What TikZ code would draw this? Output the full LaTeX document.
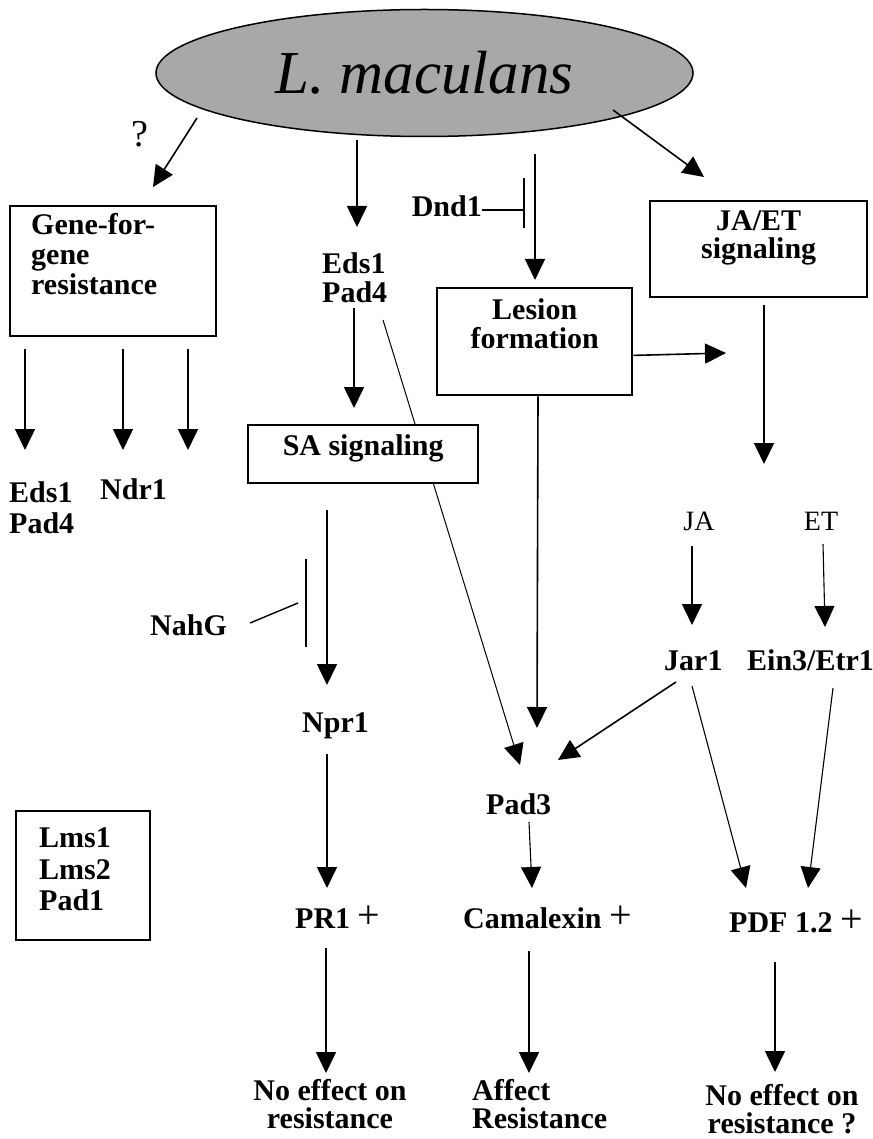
\documentclass[tikz,border=0pt]{standalone}
\usepackage{fontspec}
\setmainfont{Liberation Serif}
\usetikzlibrary{arrows.meta,shapes.geometric}
\definecolor{ellgray}{gray}{0.66}
\newcommand\bxt[4]{\parbox[c][#2][t]{#1}{\vspace*{#3}#4}}
\newcommand\bigplus{{\mdseries\fontsize{40}{40}\selectfont +}}
\begin{document}
\begin{tikzpicture}[x=1pt,y=-1pt,
  bf/.style={font=\fontsize{30}{30}\selectfont\bfseries, inner sep=0pt},
  bfl/.style={font=\fontsize{30}{#1}\selectfont\bfseries, inner sep=0pt},
  rg/.style={font=\fontsize{28}{28}\selectfont, inner sep=0pt},
  boxst/.style={draw, line width=2.4pt, fill=white, inner sep=0pt, font=\fontsize{30}{30}\selectfont\bfseries},
  arr/.style={line width=1.6pt, -{Triangle[width=20pt,length=21pt]}},
  thinarr/.style={line width=1.1pt, -{Triangle[width=20pt,length=21pt]}},
  inh/.style={line width=1.4pt}]
\useasboundingbox (0,0) rectangle (872,1139);

% pathogen
\node (ell) [ellipse, draw, line width=1.5pt, fill=ellgray, minimum width=537pt, minimum height=127pt, inner sep=0pt, font=\fontsize{61}{61}\selectfont\itshape] at (424.5,73) {L. maculans};
\node (q) [font=\fontsize{38}{38}\selectfont, inner sep=0pt] at (140,134) {?};

% text nodes
\node (eds) [bfl=29, align=left, anchor=north west] at (322,252.5) {Eds1\\Pad4};
\node (eds2) [bfl=31, align=left, anchor=north west] at (9,481.5) {Eds1\\Pad4};
\node (ndr) [bf, anchor=base west] at (100,499) {Ndr1};
\node (dnd) [bf, anchor=base east] at (482,217) {Dnd1};
\node (nahg) [bf, anchor=base west] at (150,635) {NahG};
\node (npr) [bf, anchor=base west] at (302,732) {Npr1};
\node (pad3) [bf, anchor=base west] at (486,814) {Pad3};
\node (ja) [rg, anchor=base] at (699,530) {JA};
\node (et) [rg, anchor=base] at (821,530) {ET};
\node (jar) [bf, anchor=base west] at (664,670) {Jar1};
\node (ein) [bf, anchor=base west] at (747,670) {Ein3/Etr1};
\node (pr1) [bf, anchor=base west] at (295,928) {PR1 \bigplus};
\node (cam) [bf, anchor=base west] at (463,928) {Camalexin \bigplus};
\node (pdf) [bf, anchor=base west] at (729,932) {PDF 1.2 \bigplus};
\node (noeff1) [bfl=28, align=center, anchor=north] at (330,1079.5) {No effect on\\resistance};
\node (aff) [bfl=28, align=left, anchor=north west] at (472,1079.5) {Affect\\Resistance};
\node (noeff2) [bfl=28, align=center, anchor=north] at (782,1084.5) {No effect on\\resistance ?};

% long line Pad4 -> Pad3 (behind SA box)
\draw[thinarr, line width=1pt] ([shift={(61,67.5)}]eds.north west) -- ([shift={(34,-49)}]pad3.base west);

% boxes
\node (gfg) [boxst, anchor=north west] at (9,205) {\bxt{206pt}{130pt}{7pt}{\fontsize{30}{30}\selectfont\leftskip=21pt Gene-for-\\gene\\resistance}};
\node (sa) [boxst, anchor=north west] at (247,424) {\bxt{230pt}{58pt}{9.5pt}{\centering SA signaling}};
\node (les) [boxst, anchor=north west] at (436,287) {\bxt{195pt}{107pt}{10.5pt}{\fontsize{30}{29}\selectfont\centering Lesion\\formation}};
\node (jaet) [boxst, anchor=north west] at (649,200) {\bxt{217pt}{96pt}{9.5pt}{\fontsize{30}{28}\selectfont\centering JA/ET\\signaling}};
\node (lms) [boxst, anchor=north west] at (15,810) {\bxt{134pt}{129pt}{16.5pt}{\fontsize{30}{31.5}\selectfont\leftskip=23pt Lms1\\Lms2\\Pad1}};

% free ends and inhibitor bars
\coordinate (dndT) at (524,178);
\coordinate (dndB) at (524,228);
\coordinate (dndM) at (524,210);
\coordinate (nahT) at (306,559);
\coordinate (nahB) at (306,647);
\coordinate (nahM) at (298,603);
\coordinate (g3) at (188,450);
\coordinate (lesR) at (726,353);
\coordinate (jaetD) at (764,464);

% connectors from pathogen
\draw[arr] ([shift={(-227.5,45)}]ell.center) -- ([shift={(144,-18)}]gfg.north west);
\draw[arr] ([shift={(-67.5,67)}]ell.center) -- ([shift={(35,-25.5)}]eds.north west);
\draw[arr] ([shift={(110.5,81)}]ell.center) -- ([shift={(99,-7)}]les.north west);
\draw[arr] ([shift={(188.5,37)}]ell.center) -- ([shift={(55,-23)}]jaet.north west);

% Dnd1 inhibition
\draw[inh] (dndT) -- (dndB);
\draw[inh] ([shift={(0,-7)}]dnd.base east) -- (dndM);

% gene-for-gene outputs
\draw[arr] ([shift={(16,12)}]gfg.south west) -- ([shift={(16,-31.5)}]eds2.north west);
\draw[arr] ([shift={(114,12)}]gfg.south west) -- ([shift={(23,-49)}]ndr.base west);
\draw[arr] ([shift={(179,12)}]gfg.south west) -- (g3);

% SA branch
\draw[arr] ([shift={(32,55.5)}]eds.north west) -- ([shift={(107,-16)}]sa.north west);
\draw[arr] ([shift={(80,26)}]sa.south west) -- ([shift={(25,-47)}]npr.base west);
\draw[inh] (nahT) -- (nahB);
\draw[inh] ([shift={(23,-12)}]nahg.base east) -- (nahM);
\draw[arr] ([shift={(25,22)}]npr.base west) -- ([shift={(32,-40)}]pr1.base west);

% lesion branch
\draw[arr] ([shift={(102,0)}]les.south west) -- ([shift={(51,-86)}]pad3.base west);
\draw[arr] ([shift={(0,-41)}]les.south east) -- (lesR);

% JA/ET branch
\draw[arr] ([shift={(115,7)}]jaet.south west) -- (jaetD);
\draw[arr] ([shift={(-7,16)}]ja.base) -- ([shift={(28,-45)}]jar.base west);
\draw[thinarr] ([shift={(2,14)}]et.base) -- ([shift={(78,-43)}]ein.base west);
\draw[arr] ([shift={(12,12)}]jar.base west) -- ([shift={(72,-54)}]pad3.base west);
\draw[thinarr] ([shift={(28,16)}]jar.base west) -- ([shift={(17,-44)}]pdf.base west);
\draw[thinarr] ([shift={(86,18)}]ein.base west) -- ([shift={(79,-44)}]pdf.base west);

% to outputs
\draw[thinarr] ([shift={(43,8)}]pad3.base west) -- ([shift={(69,-40)}]cam.base west);
\draw[arr] ([shift={(31,20)}]pr1.base west) -- ([shift={(-4,-6.5)}]noeff1.north);
\draw[arr] ([shift={(66,23)}]cam.base west) -- ([shift={(57,-6.5)}]aff.north west);
\draw[arr] ([shift={(46,30)}]pdf.base west) -- ([shift={(-7,-12.5)}]noeff2.north);
\end{tikzpicture}
\end{document}
